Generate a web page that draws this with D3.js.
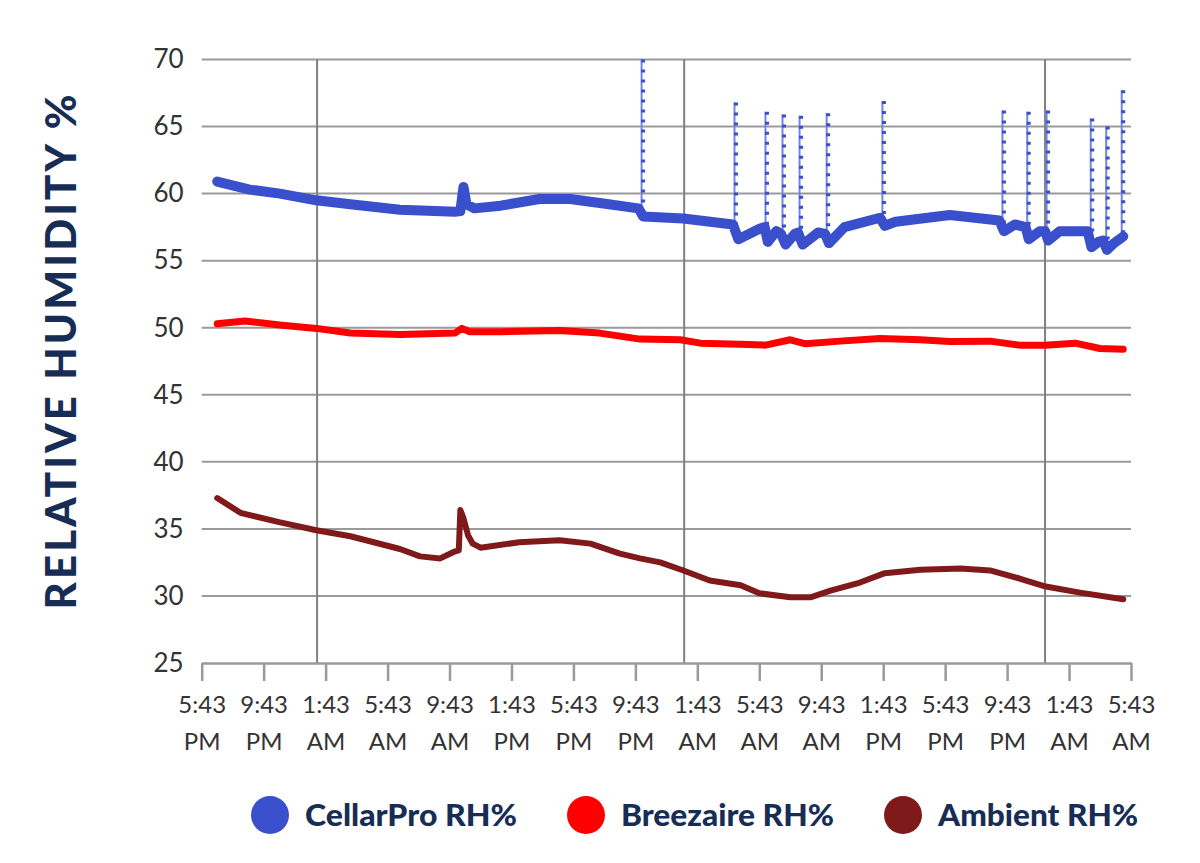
<!DOCTYPE html>
<html><head><meta charset="utf-8">
<script src="https://cdn.jsdelivr.net/npm/d3@7"></script>
<style>
body{margin:0;background:#fff;}
svg{display:block;}
</style></head>
<body>
<svg id="chart" width="1200" height="863"></svg>
<script>
// ---- data (x = hours since 5:43 PM on day 1) ----
const tickLabels = ["5:43 PM","9:43 PM","1:43 AM","5:43 AM","9:43 AM","1:43 PM","5:43 PM","9:43 PM","1:43 AM","5:43 AM","9:43 AM","1:43 PM","5:43 PM","9:43 PM","1:43 AM","5:43 AM"];
const tickHours = [0,4,8,12,16,20,24,28,32,36,40,44,48,52,56,60];
const yTicks = [25,30,35,40,45,50,55,60,65,70];
const dayMarks = [7.45, 31.15, 54.45];
const seriesNames = ["CellarPro RH%","Breezaire RH%","Ambient RH%"];
const seriesColors = ["#3a4fcc","#ff0000","#801a1a"];

const cellarPro = [[1.0,60.9],[3.1,60.3],[5.05,60.0],[7.4,59.5],[9.6,59.2],[12.8,58.8],[16.35,58.65],[16.7,58.7],[16.9,60.5],[17.1,59.2],[17.6,58.9],[19.3,59.1],[21.8,59.6],[23.8,59.6],[25.7,59.3],[28.2,58.9],[28.5,58.3],[31.1,58.15],[34.3,57.7],[34.65,56.6],[36.05,57.4],[36.35,57.5],[36.55,56.4],[37.1,57.2],[37.4,57.0],[37.7,56.2],[38.3,57.0],[38.5,57.1],[38.8,56.2],[39.8,57.1],[40.25,57.0],[40.5,56.3],[41.5,57.5],[43.8,58.2],[44.1,57.6],[44.8,57.9],[48.3,58.4],[51.5,58.0],[51.8,57.2],[52.5,57.7],[53.2,57.5],[53.4,56.6],[54.1,57.2],[54.45,57.2],[54.65,56.5],[55.4,57.2],[57.2,57.2],[57.45,56.0],[57.9,56.4],[58.2,56.5],[58.45,55.8],[58.9,56.3],[59.5,56.8]];
const cellarProSpikes = [[28.4,70.0],[34.4,66.8],[36.4,66.1],[37.5,65.9],[38.6,65.8],[40.35,66.0],[43.95,66.9],[51.7,66.2],[53.3,66.1],[54.55,66.2],[57.4,65.6],[58.4,65.0],[59.4,67.7]];
const breezaire = [[1.0,50.3],[2.8,50.5],[5.05,50.2],[7.4,49.95],[9.6,49.6],[12.8,49.5],[16.35,49.6],[16.8,49.95],[17.3,49.7],[19.3,49.7],[23.1,49.8],[25.7,49.6],[28.3,49.15],[30.9,49.1],[32.2,48.85],[34.75,48.77],[36.4,48.7],[38.0,49.1],[39.0,48.8],[41.2,49.0],[43.8,49.2],[46.4,49.1],[48.3,48.97],[50.9,49.0],[52.8,48.7],[54.45,48.7],[56.4,48.85],[58.0,48.45],[59.5,48.4]];
const ambient = [[1.0,37.3],[2.5,36.2],[5.0,35.5],[7.4,34.9],[9.6,34.45],[12.8,33.5],[14.1,32.95],[15.4,32.8],[16.3,33.3],[16.6,33.4],[16.7,36.4],[16.9,35.8],[17.2,34.5],[17.5,33.9],[18.0,33.6],[20.5,34.0],[23.1,34.15],[25.1,33.9],[27.0,33.15],[28.3,32.8],[29.6,32.5],[31.1,31.9],[32.8,31.15],[34.8,30.8],[36.0,30.2],[38.0,29.9],[39.3,29.9],[40.6,30.4],[42.5,31.0],[44.1,31.7],[46.4,31.95],[49.0,32.05],[50.9,31.9],[52.8,31.3],[54.5,30.7],[56.7,30.25],[59.5,29.75]];

// ---- layout ----
const svg = d3.select("#chart");
const x = d3.scaleLinear().domain([0,60]).range([201.7,1131]);
const y = d3.scaleLinear().domain([25,70]).range([663,59.5]);
const gridColor = "#9a9a9a";
const font = "Lato, 'Noto Sans', sans-serif";

// horizontal gridlines
svg.append("g").selectAll("line").data(yTicks.filter(v=>v>25)).join("line")
  .attr("x1", x(0)).attr("x2", x(60))
  .attr("y1", d=>y(d)).attr("y2", d=>y(d))
  .attr("stroke", gridColor).attr("stroke-width", 2);

// vertical day lines
svg.append("g").selectAll("line").data(dayMarks).join("line")
  .attr("x1", d=>x(d)).attr("x2", d=>x(d))
  .attr("y1", y(70)).attr("y2", y(25))
  .attr("stroke", "#808080").attr("stroke-width", 2);

// x axis
const xAxis = svg.append("g").attr("transform", `translate(0,${y(25)})`)
  .call(d3.axisBottom(x).tickValues(tickHours).tickSize(18).tickSizeOuter(0)
        .tickFormat((d,i)=>tickLabels[i]));
xAxis.select(".domain").attr("stroke", gridColor).attr("stroke-width", 2.5);
xAxis.selectAll(".tick line").attr("stroke", gridColor).attr("stroke-width", 2.5);
xAxis.selectAll(".tick text").each(function(d,i){
  const parts = tickLabels[i].split(" ");
  const t = d3.select(this).text(null)
    .attr("font-family", font).attr("font-size", 24)
    .attr("fill","#333").attr("y", null).attr("dy", null);
  t.append("tspan").attr("x",0).attr("y",50).text(parts[0]);
  t.append("tspan").attr("x",0).attr("y",87).text(parts[1]);
});

// y axis labels
const yAxis = svg.append("g").attr("transform", `translate(${x(0)},0)`)
  .call(d3.axisLeft(y).tickValues(yTicks).tickSize(0).tickPadding(18));
yAxis.select(".domain").remove();
yAxis.selectAll(".tick text").attr("font-family", font)
  .attr("font-size", 26).attr("fill","#333");

// y axis title
svg.append("text")
  .attr("transform", `translate(76,352) rotate(-90)`)
  .attr("text-anchor","middle")
  .attr("font-family", font).attr("font-weight","900")
  .attr("font-size", 42).attr("fill","#172d55")
  .attr("textLength", 515).attr("lengthAdjust","spacing")
  .text("RELATIVE HUMIDITY %");

const line = d3.line().x(d=>x(d[0])).y(d=>y(d[1]));

// ambient
svg.append("path").datum(ambient).attr("d", line)
  .attr("fill","none").attr("stroke", seriesColors[2]).attr("stroke-width", 6)
  .attr("stroke-linejoin","round").attr("stroke-linecap","round");
// breezaire
svg.append("path").datum(breezaire).attr("d", line)
  .attr("fill","none").attr("stroke", seriesColors[1]).attr("stroke-width", 7)
  .attr("stroke-linejoin","round").attr("stroke-linecap","round");

// cellarpro spikes
const baseAt = h => {
  const i = d3.bisector(d=>d[0]).left(cellarPro, h);
  const a = cellarPro[Math.max(0,i-1)], b = cellarPro[Math.min(cellarPro.length-1,i)];
  if (b[0]===a[0]) return a[1];
  return a[1] + (b[1]-a[1])*(h-a[0])/(b[0]-a[0]);
};
const sp = svg.append("g");
sp.selectAll("line.s").data(cellarProSpikes).join("line").attr("class","s")
  .attr("x1", d=>x(d[0])).attr("x2", d=>x(d[0]))
  .attr("y1", d=>y(d[1])).attr("y2", d=>y(baseAt(d[0])))
  .attr("stroke", "#7385e2").attr("stroke-width", 2);
sp.selectAll("line.m").data(cellarProSpikes).join("line").attr("class","m")
  .attr("x1", d=>x(d[0])+1.5).attr("x2", d=>x(d[0])+1.5)
  .attr("y1", d=>y(d[1])).attr("y2", d=>y(baseAt(d[0])))
  .attr("stroke", seriesColors[0]).attr("stroke-width", 4)
  .attr("stroke-dasharray","3,7");

// cellarpro main
svg.append("path").datum(cellarPro).attr("d", line)
  .attr("fill","none").attr("stroke", seriesColors[0]).attr("stroke-width", 10)
  .attr("stroke-linejoin","round").attr("stroke-linecap","round");

// legend
const legendX = [270, 586, 903];
const legendW = [212, 213, 200];
const lg = svg.append("g").selectAll("g").data(seriesNames).join("g")
  .attr("transform", (d,i)=>`translate(${legendX[i]},815)`);
lg.append("circle").attr("r", 19).attr("fill", (d,i)=>seriesColors[i]);
lg.append("text").attr("x", 35).attr("y", 11)
  .attr("font-family", font).attr("font-weight","900")
  .attr("font-size", 30).attr("fill","#172d55")
  .attr("textLength", (d,i)=>legendW[i]).attr("lengthAdjust","spacingAndGlyphs")
  .text(d=>d);
</script>
</body></html>
